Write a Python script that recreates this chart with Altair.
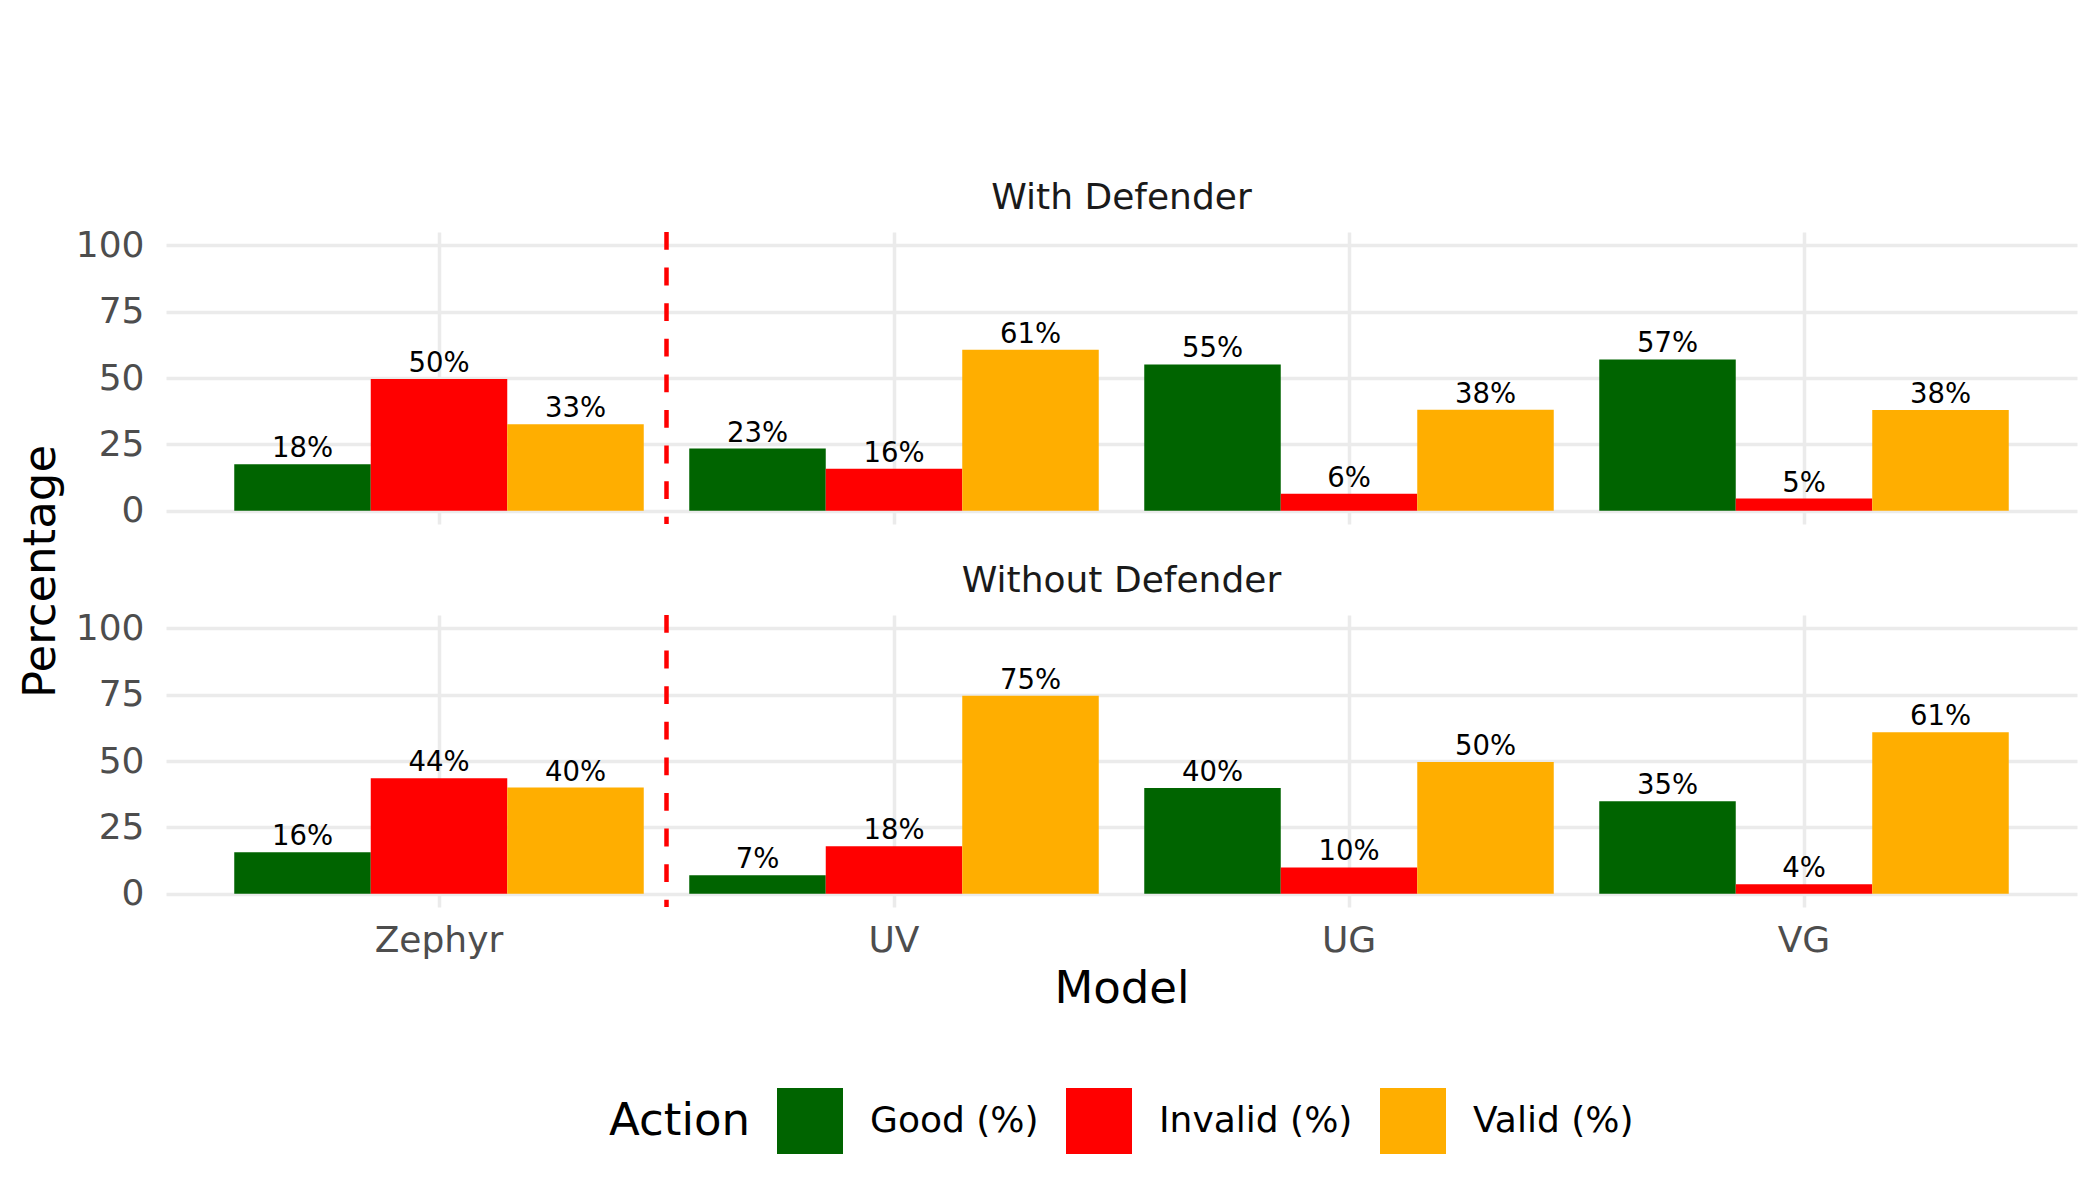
import altair as alt
import pandas as pd

models = ["Zephyr", "UV", "UG", "VG"]
actions = ["Good (%)", "Invalid (%)", "Valid (%)"]
colors = ["#006400", "#FF0000", "#FFAE00"]
panels = ["With Defender", "Without Defender"]

with_good = [17.5, 23.4, 55.1, 57.0]
with_invalid = [49.6, 15.8, 6.4, 4.6]
with_valid = [32.6, 60.6, 38.0, 37.9]

without_good = [15.6, 7.0, 39.8, 34.8]
without_invalid = [43.5, 17.9, 9.9, 3.6]
without_valid = [40.0, 74.6, 49.6, 60.8]

y_major = [0, 25, 50, 75, 100]
y_minor = [12.5, 37.5, 62.5, 87.5]
divider_model = "UV"  # dashed line drawn at the left edge of this model's band

FONT = "DejaVu Sans"
W = 1911
H = 292


def make_df(good, invalid, valid):
    rows = []
    for i, m in enumerate(models):
        for a, vals in zip(actions, [good, invalid, valid]):
            rows.append({"Model": m, "Action": a, "value": vals[i]})
    return pd.DataFrame(rows)


def panel(df, title, bottom):
    xscale = alt.Scale(domain=models, paddingInner=0, paddingOuter=0.1)
    xoff = alt.XOffset("Action:N", scale=alt.Scale(domain=actions, paddingInner=0, paddingOuter=1 / 6))
    yscale = alt.Scale(domain=[-5, 105], nice=False, zero=False)

    xaxis = alt.Axis(
        title="Model" if bottom else None,
        labels=bottom,
        ticks=False,
        domain=False,
        grid=True,
        gridColor="#EBEBEB",
        gridWidth=3.5,
        bandPosition=0.5,
        labelAngle=0,
        labelFontSize=36,
        labelColor="#4D4D4D",
        labelPadding=16,
        titleFontSize=45,
        titleColor="#000000",
        titleFontWeight="normal",
        titlePadding=8,
    )
    yaxis_kwargs = dict(
        values=y_major + y_minor,
        labelExpr="datum.value % 25 == 0 ? datum.label : ''",
        ticks=False,
        domain=False,
        grid=True,
        gridColor="#EBEBEB",
        gridWidth={"condition": {"test": "datum.value % 25 == 0", "value": 3.5}, "value": 1.8},
        labelFontSize=36,
        labelColor="#4D4D4D",
        labelPadding=22,
    )
    if not bottom:
        yaxis = alt.Axis(
            title="Percentage",
            titleFontSize=45,
            titleColor="#000000",
            titleFontWeight="normal",
            titleX=-126,
            titleY=339,
            titleAngle=270,
            titleAlign="center",
            titleBaseline="middle",
            **yaxis_kwargs,
        )
    else:
        yaxis = alt.Axis(title=None, **yaxis_kwargs)

    base = alt.Chart(df)
    bars = base.mark_bar().encode(
        x=alt.X("Model:N", scale=xscale, axis=xaxis, sort=models),
        xOffset=xoff,
        y=alt.Y("value:Q", scale=yscale, axis=yaxis),
        y2=alt.Y2(datum=0),
        color=alt.Color(
            "Action:N",
            scale=alt.Scale(domain=actions, range=colors),
            legend=alt.Legend(
                title="Action",
                orient="none",
                legendX=443,
                legendY=856,
                direction="horizontal",
                titleOrient="left",
                titleAnchor="middle",
                titleBaseline="middle",
                titleFontSize=45,
                titleFontWeight="normal",
                titleColor="#000000",
                titlePadding=27,
                labelFontSize=36,
                labelColor="#000000",
                labelOffset=27,
                labelLimit=0,
                symbolType="square",
                symbolSize=4356,
                symbolStrokeWidth=0,
                symbolOpacity=1,
                columnPadding=27,
                padding=0,
            ),
        ),
    )
    labels = base.transform_calculate(
        label="round(datum.value) + '%'"
    ).mark_text(baseline="alphabetic", dy=-7, fontSize=27.5, color="#000000", font=FONT).encode(
        x=alt.X("Model:N", scale=xscale, sort=models),
        xOffset=xoff,
        y=alt.Y("value:Q", scale=yscale),
        text="label:N",
    )
    rule = base.transform_filter(
        alt.datum.Model == divider_model
    ).transform_filter(alt.datum.Action == actions[0]).mark_rule(
        color="#FF0000", strokeWidth=4.5, strokeDash=[17.8, 17.8]
    ).encode(
        x=alt.XDatum(divider_model, bandPosition=0),
    )
    return alt.layer(bars, labels, rule).properties(
        width=W,
        height=H,
        title=alt.TitleParams(
            title, fontSize=36, fontWeight="normal", color="#1A1A1A", font=FONT, offset=10, anchor="middle"
        ),
    )


top = panel(make_df(with_good, with_invalid, with_valid), panels[0], False)
bot = panel(make_df(without_good, without_invalid, without_valid), panels[1], True)

chart = alt.vconcat(top, bot, spacing=91, bounds="flush").properties(
    padding={"left": 10, "top": 172, "right": 10, "bottom": 10}
).configure(font=FONT).configure_view(stroke=None).configure_axis(labelFont=FONT, titleFont=FONT).configure_legend(
    labelFont=FONT, titleFont=FONT
).resolve_scale(color="shared")

chart.save("out.html", embed_options={"renderer": "svg", "actions": False})
